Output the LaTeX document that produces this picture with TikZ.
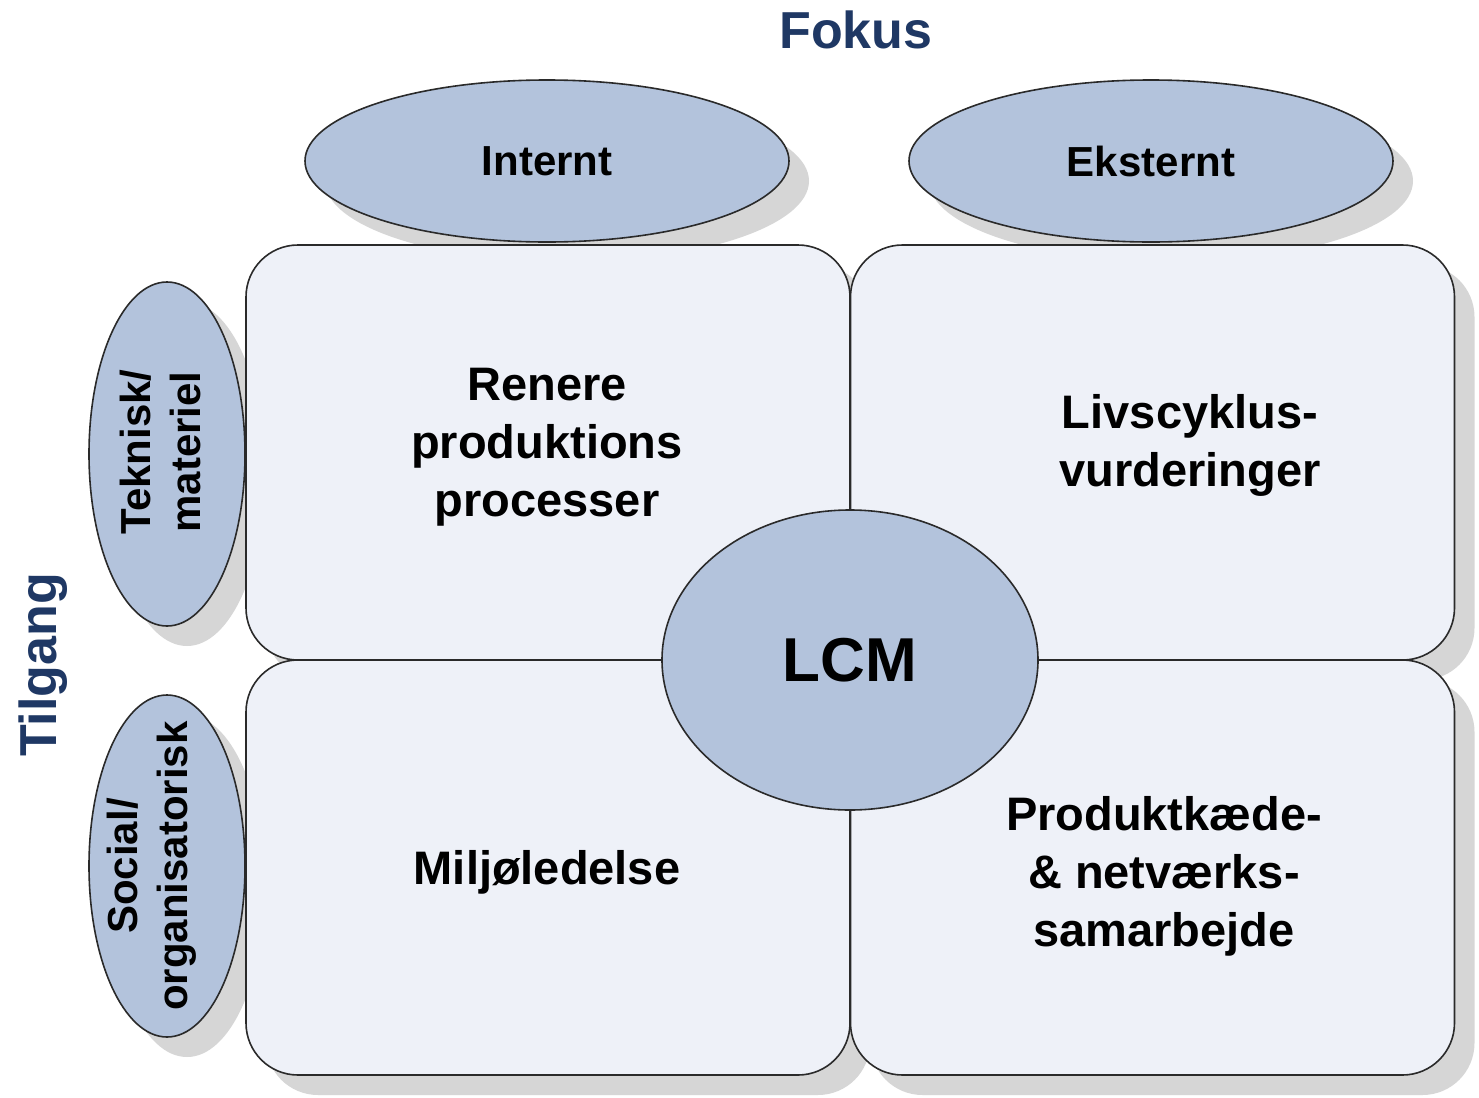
\documentclass[tikz,border=0pt]{standalone}
\usepackage{fontspec}
\setmainfont{Liberation Sans}
\usetikzlibrary{shapes.geometric,shadows}
\definecolor{ellfill}{HTML}{B3C3DC}
\definecolor{boxfill}{HTML}{EEF1F8}
\definecolor{edge}{HTML}{2A2A2A}
\definecolor{titleblue}{HTML}{1F3864}
\definecolor{shadowgray}{HTML}{D6D6D6}
\tikzset{
  myshadow/.style={drop shadow={shadow xshift=10pt,shadow yshift=-10pt,opacity=1,fill=shadowgray}},
  ell/.style={ellipse,draw=edge,line width=0.8pt,fill=ellfill,inner sep=0pt,myshadow},
  quad/.style={rectangle,rounded corners=26pt,draw=edge,line width=0.8pt,fill=boxfill,
    minimum width=302pt,minimum height=207.5pt,inner sep=0pt,myshadow},
  title/.style={font=\bfseries\fontsize{26}{30}\selectfont,text=titleblue},
  lab/.style={font=\bfseries\fontsize{21}{25}\selectfont,align=center},
  boxtext/.style={font=\bfseries\fontsize{23.5}{29}\selectfont,align=center},
}
\begin{document}
\begin{tikzpicture}[x=0.5pt,y=-0.5pt]
\useasboundingbox[fill=white] (0,0) rectangle (1479,1098);
% titles
\node[title] (fokus) at (856,30) {Fokus};
\node[title,rotate=90] (tilgang) at (43,665) {Tilgang};
% header ellipses
\node[ell,minimum width=242pt,minimum height=81pt] (internt) at (547,161) {};
\node[lab] at (internt.center) {Internt};
\node[ell,minimum width=242pt,minimum height=81pt] (eksternt) at (1151,161) {};
\node[lab] at (eksternt.center) {Eksternt};
% side ellipses
\node[ell,minimum width=78pt,minimum height=172pt] (teknisk) at (167,454) {};
\node[lab,rotate=90] at (160,452) {Teknisk/\\materiel};
\node[ell,minimum width=78pt,minimum height=171pt] (social) at (167,866) {};
\node[lab,rotate=90] at (152,866) {Social/\\organisatorisk};
% quadrants
\node[quad] (tl) at (548,452.5) {};
\node[quad] (tr) at (1152.5,452.5) {};
\node[quad] (bl) at (548,867.5) {};
\node[quad] (br) at (1152.5,867.5) {};
\node[boxtext] (tltext) at (547,447) {Renere\\produktions\\processer};
\node[boxtext] (trtext) at (1190,445) {Livscyklus-\\vurderinger};
\node[boxtext] (bltext) at (547,872) {Miljøledelse};
\node[boxtext] (brtext) at (1164,876) {Produktkæde-\\\& netværks-\\samarbejde};
% centre
\node[ellipse,draw=edge,line width=0.8pt,fill=ellfill,inner sep=0pt,
  minimum width=188pt,minimum height=150pt] (lcm) at (850,660) {};
\node[font=\bfseries\fontsize{31}{36}\selectfont] at (lcm.center) {LCM};
\end{tikzpicture}
\end{document}
